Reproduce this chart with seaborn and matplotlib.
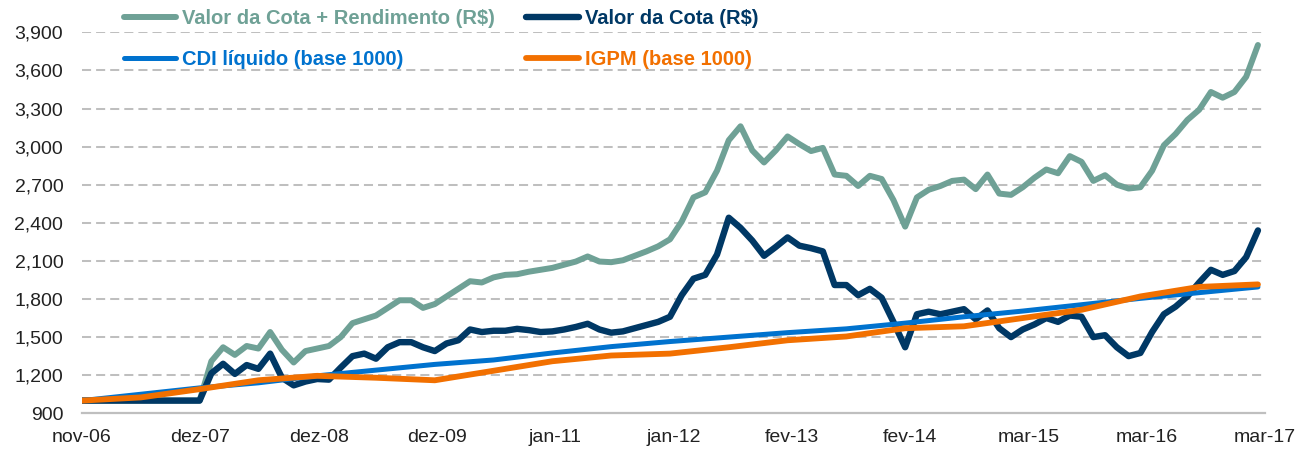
import numpy as np
import pandas as pd
import matplotlib
matplotlib.use("Agg")
import matplotlib.pyplot as plt
import seaborn as sns
from matplotlib.ticker import FuncFormatter

# ---------------- data ----------------
x_labels = ["nov-06", "dez-07", "dez-08", "dez-09", "jan-11", "jan-12",
            "fev-13", "fev-14", "mar-15", "mar-16", "mar-17"]
y_ticks = [900, 1200, 1500, 1800, 2100, 2400, 2700, 3000, 3300, 3600, 3900]

series_names = ["Valor da Cota + Rendimento (R$)", "Valor da Cota (R$)",
                "CDI líquido (base 1000)", "IGPM (base 1000)"]

# sampled every period step (101 samples across the span)
cota_rend = [1000, 1000, 1000, 1000, 1000, 1000, 1000, 1000, 1000, 1000, 1000,
             1310, 1420, 1360, 1430, 1410, 1540, 1400, 1300, 1390, 1410,
             1430, 1500, 1610, 1640, 1670, 1730, 1790, 1790, 1730, 1760,
             1820, 1880, 1940, 1930, 1970, 1990, 1995, 2015, 2030, 2045,
             2070, 2095, 2135, 2095, 2090, 2105, 2140, 2175, 2215, 2270,
             2410, 2600, 2640, 2810, 3050, 3160, 2970, 2875, 2970, 3080,
             3020, 2965, 2990, 2780, 2770, 2690, 2770, 2745, 2580, 2370,
             2600, 2660, 2690, 2730, 2740, 2665, 2780, 2630, 2620, 2680,
             2755, 2820, 2790, 2925, 2880, 2730, 2775, 2700, 2670, 2680,
             2810, 3010, 3100, 3210, 3290, 3430, 3385, 3430, 3550, 3800]

cota = [1000, 1000, 1000, 1000, 1000, 1000, 1000, 1000, 1000, 1000, 1000,
        1215, 1290, 1210, 1280, 1250, 1370, 1180, 1120, 1150, 1170,
        1165, 1260, 1350, 1370, 1330, 1420, 1460, 1460, 1420, 1390,
        1450, 1475, 1560, 1540, 1550, 1550, 1565, 1555, 1540, 1545,
        1560, 1580, 1605, 1560, 1535, 1545, 1570, 1595, 1620, 1660,
        1830, 1960, 1990, 2150, 2440, 2360, 2260, 2140, 2210, 2285,
        2220, 2200, 2175, 1910, 1910, 1830, 1880, 1810, 1620, 1420,
        1680, 1700, 1680, 1700, 1720, 1640, 1710, 1570, 1500, 1560,
        1600, 1650, 1620, 1670, 1660, 1500, 1515, 1420, 1350, 1375,
        1540, 1680, 1740, 1820, 1930, 2030, 1990, 2020, 2130, 2340]

# smooth indices, sampled every 5 periods
cdi = [1000, 1050, 1100, 1140, 1195, 1240, 1285, 1320, 1375, 1425, 1465,
       1500, 1535, 1565, 1610, 1660, 1705, 1755, 1805, 1850, 1895]
igpm = [1000, 1025, 1090, 1160, 1195, 1180, 1160, 1235, 1310, 1355, 1370,
        1420, 1475, 1505, 1570, 1585, 1650, 1715, 1820, 1895, 1915]
index_stride = 5

# ---------------- style ----------------
colors = ["#6FA196", "#003865", "#0072CE", "#F27000"]
widths = [4.3, 4.6, 3.6, 4.2]

sns.set_style("white")
plt.rcParams["font.family"] = ["Liberation Sans", "DejaVu Sans"]

fig = plt.figure(figsize=(13.09, 4.55), dpi=100)
ax = fig.add_axes([82 / 1309, 1 - 413.3 / 455, (1265 - 82) / 1309, (413.3 - 32.3) / 455])

frames = [
    pd.DataFrame({"x": np.arange(len(cota_rend)), "v": cota_rend, "s": series_names[0]}),
    pd.DataFrame({"x": np.arange(len(cota)), "v": cota, "s": series_names[1]}),
    pd.DataFrame({"x": np.arange(len(cdi)) * index_stride, "v": cdi, "s": series_names[2]}),
    pd.DataFrame({"x": np.arange(len(igpm)) * index_stride, "v": igpm, "s": series_names[3]}),
]
df = pd.concat(frames, ignore_index=True)

for k, name in enumerate(series_names):
    sub = df[df["s"] == name]
    sns.lineplot(data=sub, x="x", y="v", ax=ax, color=colors[k], lw=widths[k],
                 estimator=None, sort=False, label=name, zorder=3 + k,
                 solid_capstyle="round", solid_joinstyle="round")

tick_step = 10.06
ax.set_xlim(0, tick_step * (len(x_labels) - 1))
ax.set_ylim(y_ticks[0], y_ticks[-1])
ax.set_xticks(np.arange(len(x_labels)) * tick_step)
ax.set_xticklabels(x_labels)
ax.set_yticks(y_ticks)
ax.yaxis.set_major_formatter(FuncFormatter(lambda v, p: f"{v:,.0f}"))
ax.set_xlabel("")
ax.set_ylabel("")

ax.yaxis.grid(True, color="#BFBFBF", lw=1.45, linestyle=(0, (4.5, 2.5)), zorder=0)
ax.xaxis.grid(False)
ax.set_axisbelow(True)
for sp in ["top", "right", "left"]:
    ax.spines[sp].set_visible(False)
ax.spines["bottom"].set_color("#BFBFBF")
ax.spines["bottom"].set_linewidth(1.6)
ax.tick_params(axis="both", length=0, labelsize=14, colors="#222222")
ax.tick_params(axis="x", pad=11)
ax.tick_params(axis="y", pad=13.5)

h, l = ax.get_legend_handles_labels()
order = [0, 2, 1, 3]
leg = ax.legend([h[i] for i in order], [l[i] for i in order], ncol=2,
                loc="upper left", bbox_to_anchor=(124 / 1309, 1 - 9 / 455),
                bbox_transform=fig.transFigure, frameon=False,
                prop={"weight": "bold", "size": 14.5}, handlelength=2.6,
                handletextpad=0.3, columnspacing=1.55, labelspacing=1.1,
                borderpad=0, borderaxespad=0)
for txt, i in zip(leg.get_texts(), order):
    txt.set_color(colors[i])

fig.savefig("out.png", dpi=100)
